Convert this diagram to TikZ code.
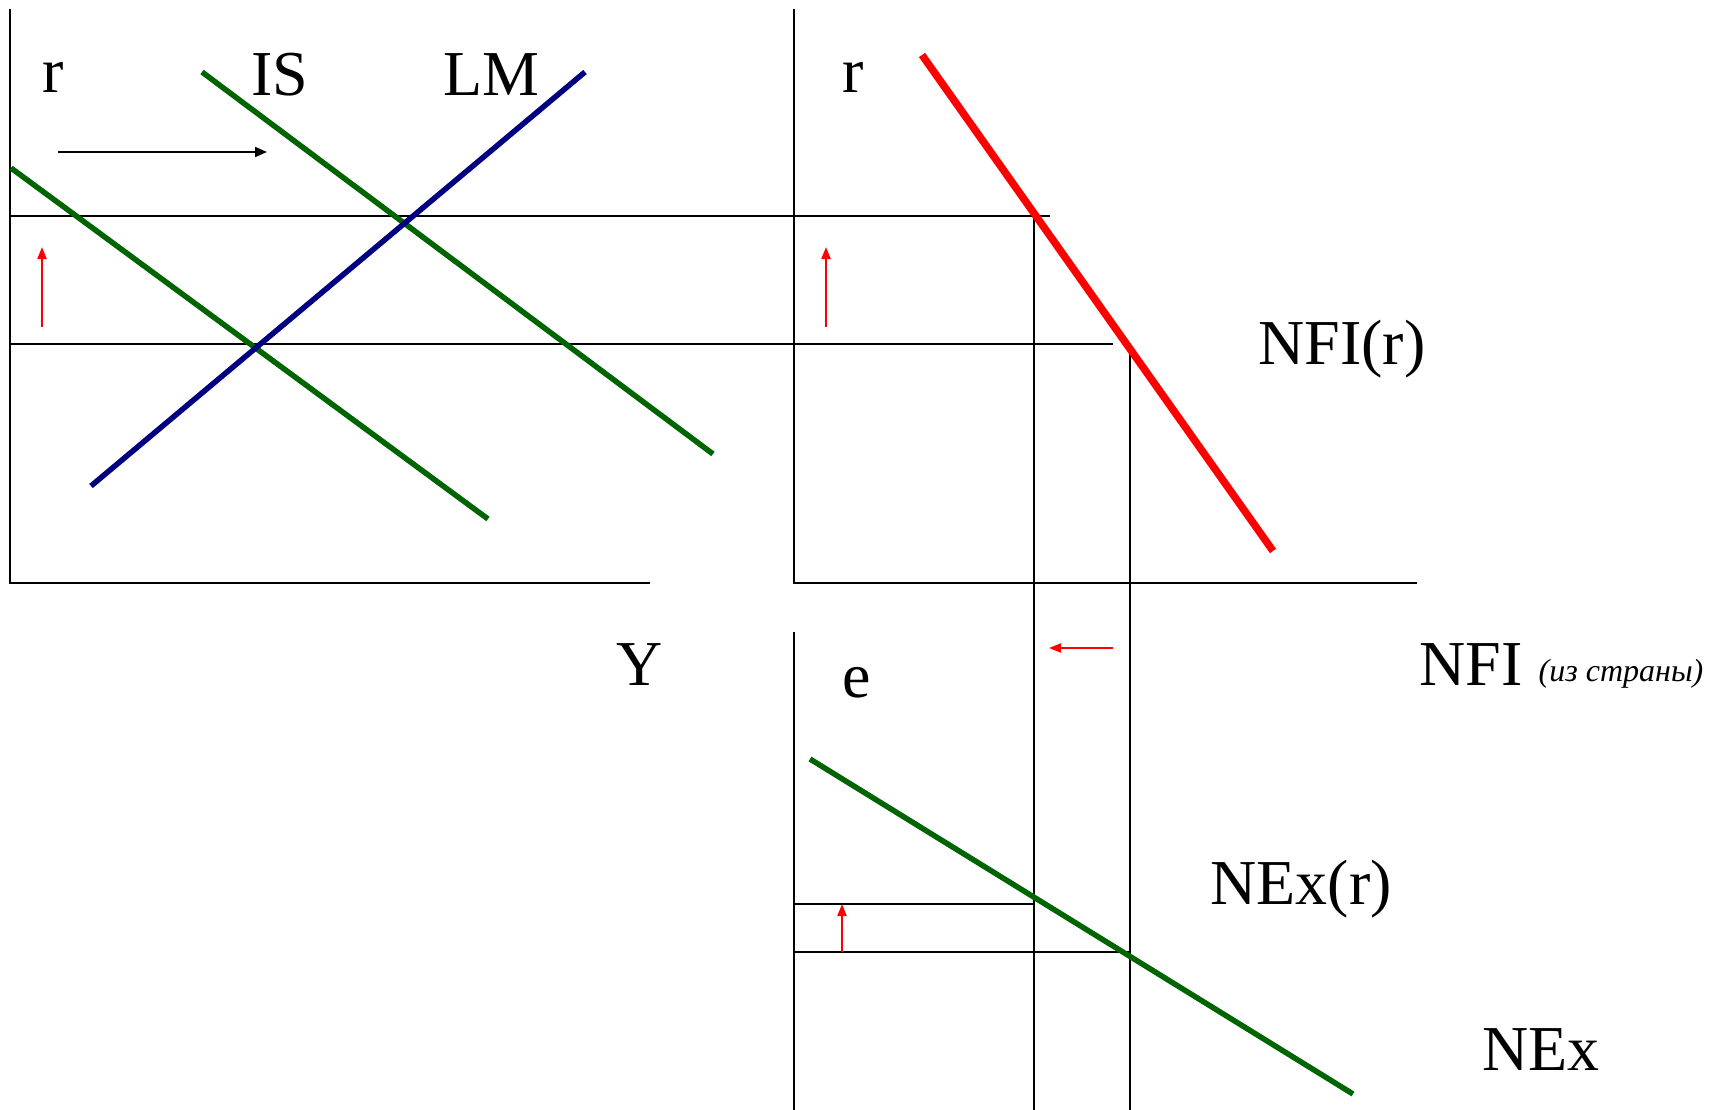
\documentclass[tikz,border=0pt]{standalone}
\usepackage{fontspec}
\setmainfont{Liberation Serif}
\usetikzlibrary{arrows.meta}
\definecolor{dgreen}{RGB}{0,100,0}
\definecolor{navyc}{RGB}{0,0,128}
\definecolor{redc}{RGB}{255,0,0}
\begin{document}
\begin{tikzpicture}[x=1pt,y=-1pt,
  axis/.style={draw=black,line width=2pt},
  guide/.style={draw=black,line width=2pt},
  greencurve/.style={draw=dgreen,line width=5.5pt},
  navycurve/.style={draw=navyc,line width=5.5pt},
  redcurve/.style={draw=redc,line width=7.5pt},
  redarrow/.style={draw=redc,line width=2pt,-{Triangle[length=12pt,width=9pt]}},
  blackarrow/.style={draw=black,line width=2pt,-{Triangle[length=12pt,width=10pt]}},
  lbl/.style={inner sep=0pt,font=\fontsize{64}{72}\selectfont},
  small/.style={inner sep=0pt,font=\fontsize{32}{36}\selectfont\itshape}]
\useasboundingbox (0,0) rectangle (1721,1110);
% axes
\coordinate (A1t) at (10,9); \coordinate (A1o) at (10,583); \coordinate (A1r) at (650,583);
\coordinate (A2t) at (794,9); \coordinate (A2o) at (794,583); \coordinate (A2r) at (1417,583);
\coordinate (A3t) at (794,632); \coordinate (A3b) at (794,1110);
\draw[axis] (A1t) -- (A1o) -- (A1r);
\draw[axis] (A2t) -- (A2o) -- (A2r);
\draw[axis] (A3t) -- (A3b);
% guide lines
\coordinate (H1l) at (10,216); \coordinate (H1r) at (1050,216);
\coordinate (H2l) at (10,344); \coordinate (H2r) at (1113,344);
\coordinate (V1t) at (1034,216); \coordinate (V1b) at (1034,1110);
\coordinate (V2t) at (1130,344); \coordinate (V2b) at (1130,1110);
\coordinate (H3l) at (794,904); \coordinate (H3r) at (1034,904);
\coordinate (H4l) at (794,952); \coordinate (H4r) at (1130,952);
\draw[guide] (H1l) -- (H1r);
\draw[guide] (H2l) -- (H2r);
\draw[guide] (V1t) -- (V1b);
\draw[guide] (V2t) -- (V2b);
\draw[guide] (H3l) -- (H3r);
\draw[guide] (H4l) -- (H4r);
% curves
\coordinate (IS2a) at (202,72); \coordinate (IS2b) at (713,454);
\coordinate (IS1a) at (11,168); \coordinate (IS1b) at (488,519);
\coordinate (LMa) at (91,486); \coordinate (LMb) at (585,72);
\coordinate (NFIa) at (922,55); \coordinate (NFIb) at (1273,551);
\coordinate (NExa) at (810,759); \coordinate (NExb) at (1353,1094);
\draw[greencurve] (IS2a) -- (IS2b);
\draw[greencurve] (IS1a) -- (IS1b);
\draw[navycurve] (LMa) -- (LMb);
\draw[redcurve] (NFIa) -- (NFIb);
\draw[greencurve] (NExa) -- (NExb);
% arrows
\coordinate (BAa) at (58,152); \coordinate (BAb) at (267,152);
\draw[blackarrow] (BAa) -- (BAb);
\coordinate (R1a) at (42,327); \coordinate (R1b) at (42,247);
\coordinate (R2a) at (826,327); \coordinate (R2b) at (826,247);
\coordinate (R3a) at (1113,648); \coordinate (R3b) at (1049,648);
\coordinate (R4a) at (842,952); \coordinate (R4b) at (842,904);
\draw[redarrow] (R1a) -- (R1b);
\draw[redarrow] (R2a) -- (R2b);
\draw[redarrow] (R3a) -- (R3b);
\draw[redarrow] (R4a) -- (R4b);
% labels
\node[lbl] (r1) at (53,77) {r};
\node[lbl] (IS) at (280,75) {IS};
\node[lbl] (LM) at (491,75) {LM};
\node[lbl] (r2) at (853,77) {r};
\node[lbl] (NFIr) at (1342,349) {NFI(r)};
\node[lbl] (Y) at (640,665) {Y};
\node[lbl] (NFI) at (1471,665) {NFI};
\node[small] (izs) at (1621,674) {(из страны)};
\node[lbl] (e) at (857,683) {e};
\node[lbl] (NExr) at (1301,889) {NEx(r)};
\node[lbl] (NEx) at (1541,1050) {NEx};
\end{tikzpicture}
\end{document}
